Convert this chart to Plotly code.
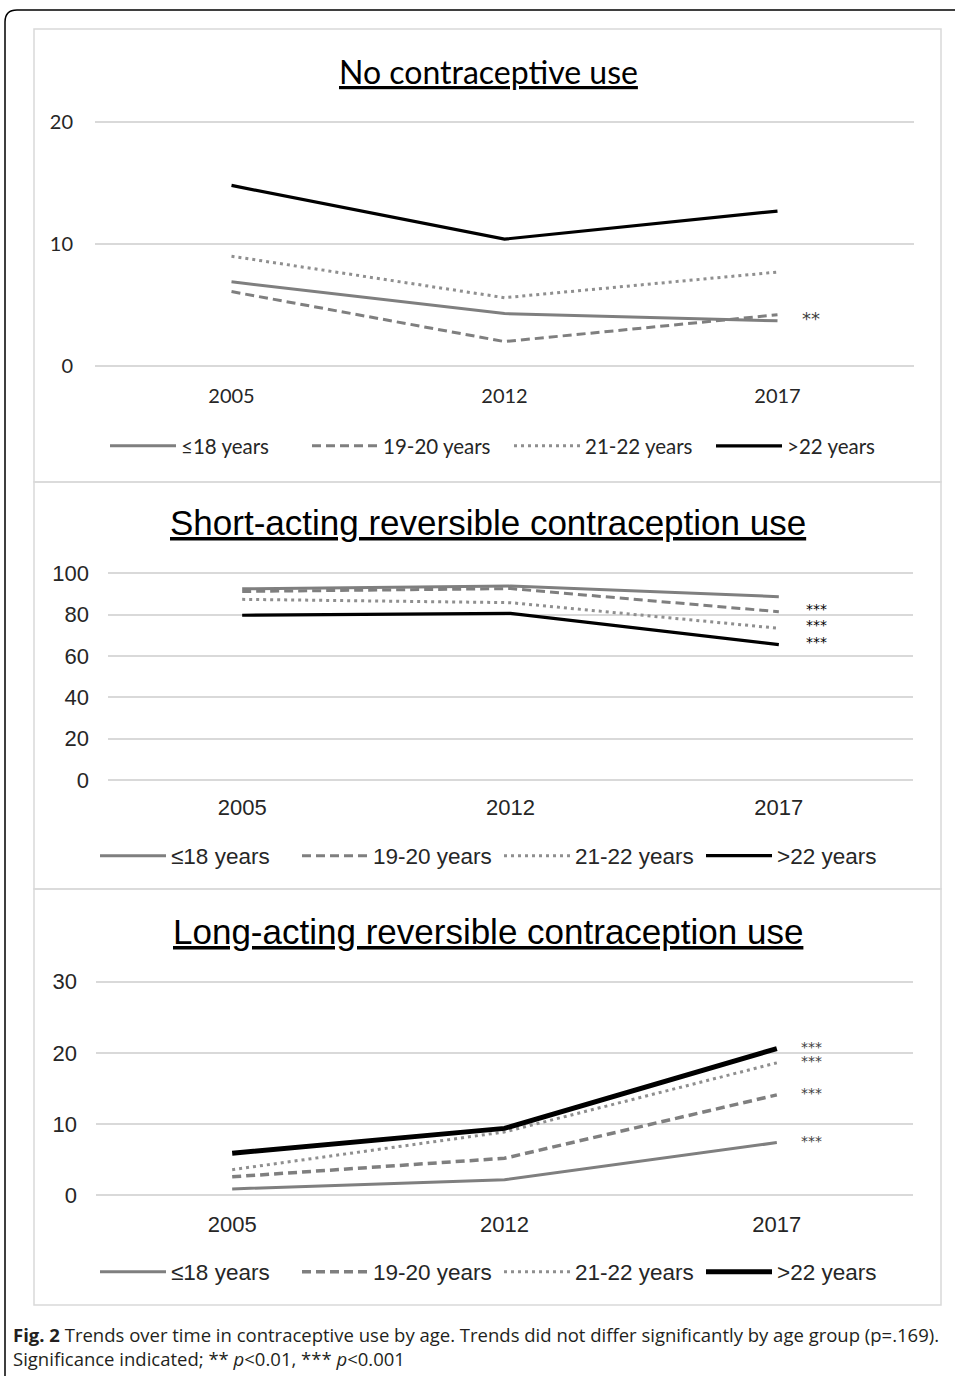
import plotly.graph_objects as go

W, H = 955, 1376

years = ["2005", "2012", "2017"]
groups = ["≤18 years", "19-20 years", "21-22 years", ">22 years"]

# Panel 1: No contraceptive use (%)
none_le18 = [6.9, 4.3, 3.7]
none_19_20 = [6.1, 2.0, 4.2]
none_21_22 = [9.0, 5.6, 7.7]
none_gt22 = [14.8, 10.4, 12.7]
none_sig = ["", "**", "", ""]

# Panel 2: Short-acting reversible contraception use (%)
sarc_le18 = [92.5, 93.8, 88.7]
sarc_19_20 = [91.2, 92.6, 81.4]
sarc_21_22 = [87.4, 85.8, 73.4]
sarc_gt22 = [79.7, 80.6, 65.5]
sarc_sig = ["", "***", "***", "***"]

# Panel 3: Long-acting reversible contraception use (%)
larc_le18 = [0.9, 2.2, 7.4]
larc_19_20 = [2.6, 5.2, 14.1]
larc_21_22 = [3.6, 8.9, 18.6]
larc_gt22 = [5.9, 9.4, 20.6]
larc_sig = ["***", "***", "***", "***"]

titles = ["No contraceptive use",
          "Short-acting reversible contraception use",
          "Long-acting reversible contraception use"]
y_ticks = [[0, 10, 20], [0, 20, 40, 60, 80, 100], [0, 10, 20, 30]]

caption = ("<b>Fig. 2</b> Trends over time in contraceptive use by age. Trends did not differ "
           "significantly by age group (p=.169).<br>Significance indicated; ** <i>p</i>&lt;0.01, "
           "*** <i>p</i>&lt;0.001")

panels_data = [
    [none_le18, none_19_20, none_21_22, none_gt22],
    [sarc_le18, sarc_19_20, sarc_21_22, sarc_gt22],
    [larc_le18, larc_19_20, larc_21_22, larc_gt22],
]
panels_sig = [none_sig, sarc_sig, larc_sig]

# ---------- styling / layout (pixel geometry) ----------
colors = ["#7f7f7f", "#7f7f7f", "#8f8f8f", "#000000"]
dashes = ["solid", "9px,5px", "3px,4px", "solid"]
widths = [[3, 3, 3, 3.2], [3, 3, 3, 3.2], [3, 3.5, 3, 5]]

panel_cfg = [
    dict(font="Lato", xpx=(95, 914), y0=(0, 366), y1=(20, 122), rng=(-0.5, 20.5),
         box=(29, 482), title_y=71, title_size=32, tick_size=20, leg_y=446, leg_size=20.5,
         leg_x=105, xstand=10, ystand=21,
         sig_font="DejaVu Sans", sig_size=18, sig_color="#404040", sig_xshift=33, sig_yshift=-4),
    dict(font="Liberation Sans", xpx=(108, 913), y0=(0, 780), y1=(100, 573.3), rng=(-2, 102),
         box=(482, 889), title_y=523, title_size=35, tick_size=22, leg_y=856, leg_size=22.5,
         leg_x=95, xstand=8, ystand=18,
         sig_font="DejaVu Sans", sig_size=14, sig_color="#000000", sig_xshift=38, sig_yshift=3),
    dict(font="Liberation Sans", xpx=(96, 913), y0=(0, 1195.3), y1=(30, 981.7), rng=(-0.6, 30.6),
         box=(889, 1305), title_y=931, title_size=35, tick_size=22, leg_y=1272, leg_size=22.5,
         leg_x=95, xstand=9, ystand=18,
         sig_font="DejaVu Sans", sig_size=14, sig_color="#404040", sig_xshift=35, sig_yshift=2),
]


def dom_y(v0, p0, v1, p1, r0, r1):
    ppu = (p0 - p1) / (v1 - v0)
    pb = p0 + (v0 - r0) * ppu
    pt = p1 - (r1 - v1) * ppu
    return [1 - pb / H, 1 - pt / H]


fig = go.Figure()
layout = dict(width=W, height=H, margin=dict(l=0, r=0, t=0, b=0, autoexpand=False),
              paper_bgcolor="white", plot_bgcolor="white", showlegend=True)
annotations = []
shapes = []

for i, cfg in enumerate(panel_cfg):
    n = "" if i == 0 else str(i + 1)
    xa, ya = "xaxis" + n, "yaxis" + n
    xr, yr = "x" + n, "y" + n
    leg = "legend" + n
    ydom = dom_y(cfg["y0"][0], cfg["y0"][1], cfg["y1"][0], cfg["y1"][1], *cfg["rng"])
    layout[xa] = dict(domain=[cfg["xpx"][0] / W, cfg["xpx"][1] / W], type="category",
                      range=[-0.5, 2.5], showgrid=False, zeroline=False, showline=False,
                      ticks="", ticklabelstandoff=cfg["xstand"], anchor=yr, fixedrange=True,
                      tickfont=dict(family=cfg["font"], size=cfg["tick_size"], color="#262626"))
    layout[ya] = dict(domain=ydom, range=list(cfg["rng"]), tickvals=y_ticks[i],
                      showgrid=True, gridcolor="#d9d9d9", gridwidth=1.5, zeroline=False,
                      showline=False, ticks="", ticklabelstandoff=cfg["ystand"], anchor=xr,
                      fixedrange=True,
                      tickfont=dict(family=cfg["font"], size=cfg["tick_size"], color="#262626"))
    layout[leg] = dict(orientation="h", x=cfg["leg_x"] / W, xanchor="left", y=1 - cfg["leg_y"] / H,
                       yanchor="middle", bgcolor="rgba(0,0,0,0)", itemwidth=66,
                       entrywidth=121, traceorder="normal",
                       font=dict(family=cfg["font"], size=cfg["leg_size"], color="#262626"))
    for k, (g, vals) in enumerate(zip(groups, panels_data[i])):
        fig.add_trace(go.Scatter(x=years, y=vals, mode="lines", name=g, legend=leg,
                                 xaxis=xr, yaxis=yr, hoverinfo="skip",
                                 line=dict(color=colors[k], dash=dashes[k], width=widths[i][k])))
        if panels_sig[i][k]:
            annotations.append(dict(x=len(years) - 1, y=vals[-1], xref=xr, yref=yr,
                                    text=panels_sig[i][k], showarrow=False, borderpad=0,
                                    xshift=cfg["sig_xshift"], yshift=cfg["sig_yshift"],
                                    xanchor="center", yanchor="middle",
                                    font=dict(family=cfg["sig_font"], size=cfg["sig_size"],
                                              color=cfg["sig_color"])))
    # title
    annotations.append(dict(x=488 / W, y=1 - cfg["title_y"] / H, xref="paper", yref="paper",
                            text="<u>" + titles[i] + "</u>", showarrow=False,
                            xanchor="center", yanchor="middle",
                            font=dict(family=cfg["font"], size=cfg["title_size"], color="#000000")))
    # panel box
    shapes.append(dict(type="rect", xref="paper", yref="paper", x0=34 / W, x1=941 / W,
                       y0=1 - cfg["box"][1] / H, y1=1 - cfg["box"][0] / H,
                       line=dict(color="#d9d9d9", width=1.5), fillcolor="rgba(0,0,0,0)",
                       layer="below"))

# outer rounded frame
shapes.append(dict(type="path", xref="paper", yref="paper",
                   path=f"M {5/W},{-10/H} L {5/W},{1-22/H} Q {5/W},{1-10/H} {17/W},{1-10/H} L {970/W},{1-10/H}",
                   line=dict(color="#000000", width=1.5)))

annotations.append(dict(x=11 / W, y=1 - 1346 / H, xref="paper", yref="paper", text=caption,
                        showarrow=False, xanchor="left", yanchor="middle", align="left",
                        font=dict(family="Open Sans", size=18.5, color="#231f20")))

layout["annotations"] = annotations
layout["shapes"] = shapes
fig.update_layout(**layout)
fig.write_html("out.html", config={"displayModeBar": False},
               post_script="document.body.style.margin='0';")
